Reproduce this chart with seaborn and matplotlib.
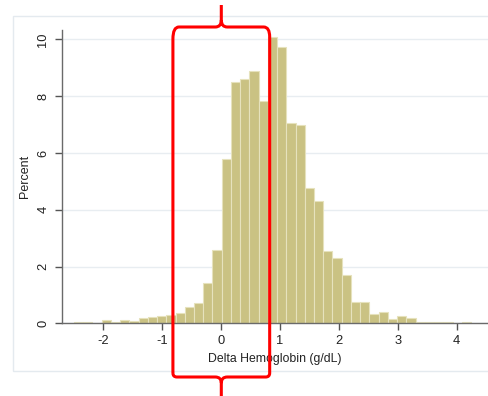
import numpy as np
import pandas as pd
import matplotlib.pyplot as plt
import seaborn as sns
from matplotlib.path import Path
from matplotlib.patches import PathPatch, Rectangle

sns.set_theme(style="white")
plt.rcParams['font.family'] = ['Liberation Sans', 'DejaVu Sans']

# histogram bins (Stata-style: start at the minimum, fixed width)
bin_start = -2.497
bin_width = 0.1567
percent = [0.05, 0.05, 0.02, 0.11, 0.05, 0.13, 0.07, 0.18, 0.23, 0.27,
           0.29, 0.37, 0.56, 0.73, 1.41, 2.60, 5.80, 8.49, 8.59, 8.90,
           7.84, 10.10, 9.74, 7.05, 7.00, 4.77, 4.31, 2.56, 2.29, 1.71,
           0.76, 0.75, 0.32, 0.40, 0.14, 0.26, 0.18, 0.04, 0.04, 0.04,
           0.04, 0.01, 0.05]
x_ticks = [-2, -1, 0, 1, 2, 3, 4]
y_ticks = [0, 2, 4, 6, 8, 10]
bracket_half = 0.82  # the red bracket marks roughly +/-0.82 g/dL

nbins = len(percent)
bin_end = bin_start + bin_width * nbins
centers = bin_start + bin_width * (np.arange(nbins) + 0.5)
df = pd.DataFrame({"delta": centers, "pct": percent})

W, H = 488, 396
fig = plt.figure(figsize=(W / 100, H / 100), dpi=100)
ax = fig.add_axes([61.7 / W, (H - 323.4) / H, 1 - 61.7 / W, (323.4 - 30) / H])

# light outer frame (graph region)
fig.patches.append(Rectangle((13.3 / W, 1 - 371 / H), 1.0, (371 - 16) / H,
                             transform=fig.transFigure, fill=False,
                             edgecolor='#e4eaef', lw=1.0))

sns.histplot(data=df, x="delta", weights="pct", bins=nbins,
             binrange=(bin_start, bin_end), ax=ax,
             color='#cac283', edgecolor='#e6e2bd', linewidth=0.8, alpha=1)

ax.set_xlim(-2.705, 4.53)
ax.set_ylim(0, 10.33)
ax.set_xticks(x_ticks)
ax.set_yticks(y_ticks)
ax.set_xticklabels([str(t) for t in x_ticks])
ax.set_yticklabels([str(t) for t in y_ticks], rotation=90, va='center')
ax.yaxis.grid(True, color='#e8edf1', lw=1.0)
ax.set_axisbelow(True)

for side in ['top', 'right']:
    ax.spines[side].set_visible(False)
for side in ['left', 'bottom']:
    ax.spines[side].set_color('#6a6a6a')
    ax.spines[side].set_linewidth(1.0)
ax.tick_params(axis='both', bottom=True, left=True, length=5, width=1,
               color='#555555', labelsize=9.3, labelcolor='#222222')
ax.tick_params(axis='x', pad=3.5)
ax.tick_params(axis='y', pad=4)
ax.set_xlabel("Delta Hemoglobin (g/dL)", fontsize=8.8, color='#222222', labelpad=4)
ax.set_ylabel("Percent", fontsize=9, color='#222222', labelpad=4.5)

# red brace-like bracket drawn over the chart
x0 = 221.3 - bracket_half * 59.0
x1 = 221.3 + bracket_half * 59.0
xm = (x0 + x1) / 2
yt, yb = 27.0, 377.0
r = 6
pts = [
    ((x0, yb - 4), Path.MOVETO), ((x0, yb), Path.CURVE3), ((x0 + 4, yb), Path.CURVE3),
    ((xm - 6, yb), Path.LINETO), ((xm, yb), Path.CURVE3), ((xm, yb + 6), Path.CURVE3),
    ((xm, 398), Path.LINETO),
    ((xm, yb + 6), Path.MOVETO), ((xm, yb), Path.CURVE3), ((xm + 6, yb), Path.CURVE3),
    ((x1 - 4, yb), Path.LINETO), ((x1, yb), Path.CURVE3), ((x1, yb - 4), Path.CURVE3),
    ((x1, yt + r + 4), Path.LINETO), ((x1, yt), Path.CURVE3), ((x1 - r, yt), Path.CURVE3),
    ((xm + 6, yt), Path.LINETO), ((xm, yt), Path.CURVE3), ((xm, yt - 7), Path.CURVE3),
    ((xm, 5), Path.LINETO),
    ((xm, yt - 7), Path.MOVETO), ((xm, yt), Path.CURVE3), ((xm - 6, yt), Path.CURVE3),
    ((x0 + r, yt), Path.LINETO), ((x0, yt), Path.CURVE3), ((x0, yt + r + 6), Path.CURVE3),
    ((x0, yb - 4), Path.LINETO),
]
verts = [(px / W, 1 - py / H) for (px, py), _ in pts]
codes = [c for _, c in pts]
fig.patches.append(PathPatch(Path(verts, codes), transform=fig.transFigure,
                             fill=False, edgecolor='#ff0000', lw=2.2,
                             capstyle='butt', joinstyle='round'))

fig.savefig("out.png", dpi=100, facecolor='white')
